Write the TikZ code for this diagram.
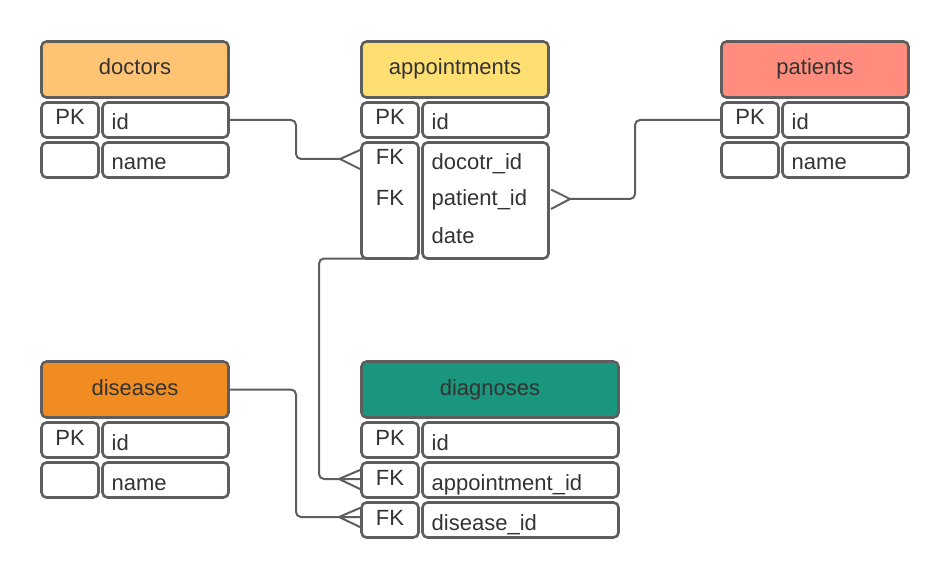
\documentclass[tikz,border=0pt]{standalone}
\usepackage{fontspec}
\setmainfont{Liberation Sans}
\definecolor{bordr}{HTML}{5E5E5E}
\definecolor{txt}{HTML}{333333}
\definecolor{cdoc}{HTML}{FFC374}
\definecolor{capp}{HTML}{FFDF71}
\definecolor{cpat}{HTML}{FF8C7D}
\definecolor{cdis}{HTML}{F08C21}
\definecolor{cdia}{HTML}{19967D}
\newcommand\tcell[6]{%
  \node[tcell, fill=#6, minimum width=#4pt-3pt, minimum height=#5pt-3pt, anchor=north west] (#1) at ({#2+1.5},{#3+1.5}) {};}
\begin{document}
\begin{tikzpicture}[x=1pt,y=-1pt,
  tcell/.style={draw=bordr, line width=2.6pt, rounded corners=5pt, inner sep=0pt, outer sep=0pt},
  conn/.style={draw=bordr, line width=2pt, rounded corners=5pt},
  hdr/.style={text=txt, anchor=base, inner sep=0pt, font=\fontsize{22}{26}\selectfont},
  key/.style={text=txt, anchor=base, inner sep=0pt, font=\fontsize{22}{26}\selectfont},
  fld/.style={text=txt, anchor=base west, inner sep=0pt, font=\fontsize{22}{26}\selectfont}]
\useasboundingbox (0,0) rectangle (950,580);
% doctors
\tcell{doc}{40}{40}{190}{59}{cdoc}
\tcell{doc-k1}{40}{101}{60}{38}{white}
\tcell{doc-f1}{101}{101}{129}{38}{white}
\tcell{doc-k2}{40}{141}{60}{38}{white}
\tcell{doc-f2}{101}{141}{129}{38}{white}
\node[hdr] (doc-t) at (135,75) {doctors};
\node[key] (doc-t1) at (70,125) {PK};
\node[fld] (doc-t2) at (111.5,130) {id};
\node[fld] (doc-t3) at (111.5,170) {name};
% appointments
\tcell{app}{360}{40}{190}{59}{capp}
\tcell{app-k1}{360}{101}{60}{38}{white}
\tcell{app-f1}{421}{101}{129}{38}{white}
\tcell{app-k2}{360}{141}{60}{119}{white}
\tcell{app-f2}{421}{141}{129}{119}{white}
\node[hdr] (app-t) at (455,75) {appointments};
\node[key] (app-t1) at (390,125) {PK};
\node[fld] (app-t2) at (431.5,130) {id};
\node[key] (app-t3) at (390,165) {FK};
\node[key] (app-t4) at (390,205) {FK};
\node[fld] (app-t5) at (431.5,170) {docotr\_id};
\node[fld] (app-t6) at (431.5,205) {patient\_id};
\node[fld] (app-t7) at (431.5,243) {date};
% patients
\tcell{pat}{720}{40}{190}{59}{cpat}
\tcell{pat-k1}{720}{101}{60}{38}{white}
\tcell{pat-f1}{781}{101}{129}{38}{white}
\tcell{pat-k2}{720}{141}{60}{38}{white}
\tcell{pat-f2}{781}{141}{129}{38}{white}
\node[hdr] (pat-t) at (815,75) {patients};
\node[key] (pat-t1) at (750,125) {PK};
\node[fld] (pat-t2) at (791.5,130) {id};
\node[fld] (pat-t3) at (791.5,170) {name};
% diseases
\tcell{dis}{40}{360}{190}{59}{cdis}
\tcell{dis-k1}{40}{421}{60}{38}{white}
\tcell{dis-f1}{101}{421}{129}{38}{white}
\tcell{dis-k2}{40}{461}{60}{38}{white}
\tcell{dis-f2}{101}{461}{129}{38}{white}
\node[hdr] (dis-t) at (135,395) {diseases};
\node[key] (dis-t1) at (70,445) {PK};
\node[fld] (dis-t2) at (111.5,450) {id};
\node[fld] (dis-t3) at (111.5,490) {name};
% diagnoses
\tcell{dia}{360}{360}{260}{59}{cdia}
\tcell{dia-k1}{360}{421}{60}{38}{white}
\tcell{dia-f1}{421}{421}{199}{38}{white}
\tcell{dia-k2}{360}{461}{60}{38}{white}
\tcell{dia-f2}{421}{461}{199}{38}{white}
\tcell{dia-k3}{360}{501}{60}{38}{white}
\tcell{dia-f3}{421}{501}{199}{38}{white}
\node[hdr] (dia-t) at (490,395) {diagnoses};
\node[key] (dia-t1) at (390,445) {PK};
\node[fld] (dia-t2) at (431.5,450) {id};
\node[key] (dia-t3) at (390,485) {FK};
\node[fld] (dia-t4) at (431.5,490) {appointment\_id};
\node[key] (dia-t5) at (390,525) {FK};
\node[fld] (dia-t6) at (431.5,530) {disease\_id};
% connectors
\coordinate (b1) at (296,159);
\coordinate (fk1) at (340,159);
\draw[conn] (doc-f1.east) -| (b1) -- (fk1);
\draw[conn] (fk1) -- (360,150) (fk1) -- (360,169);
\coordinate (b2) at (635,199);
\coordinate (fk2) at (570,199);
\draw[conn] (pat-k1.west) -| (b2) -- (fk2);
\draw[conn] (fk2) -- (551,189.5) (fk2) -- (551,209);
\coordinate (b3) at (319,479);
\coordinate (fk3) at (339,479);
\draw[conn] (app-k2.south east) -| (b3) -- (fk3);
\draw[conn] (fk3) -- (360,470) (fk3) -- (360,479) (fk3) -- (360,489);
\coordinate (b4) at (296,517);
\coordinate (fk4) at (339,517);
\draw[conn] (dis.east) -| (b4) -- (fk4);
\draw[conn] (fk4) -- (360,508) (fk4) -- (360,517) (fk4) -- (360,527);
\end{tikzpicture}
\end{document}
